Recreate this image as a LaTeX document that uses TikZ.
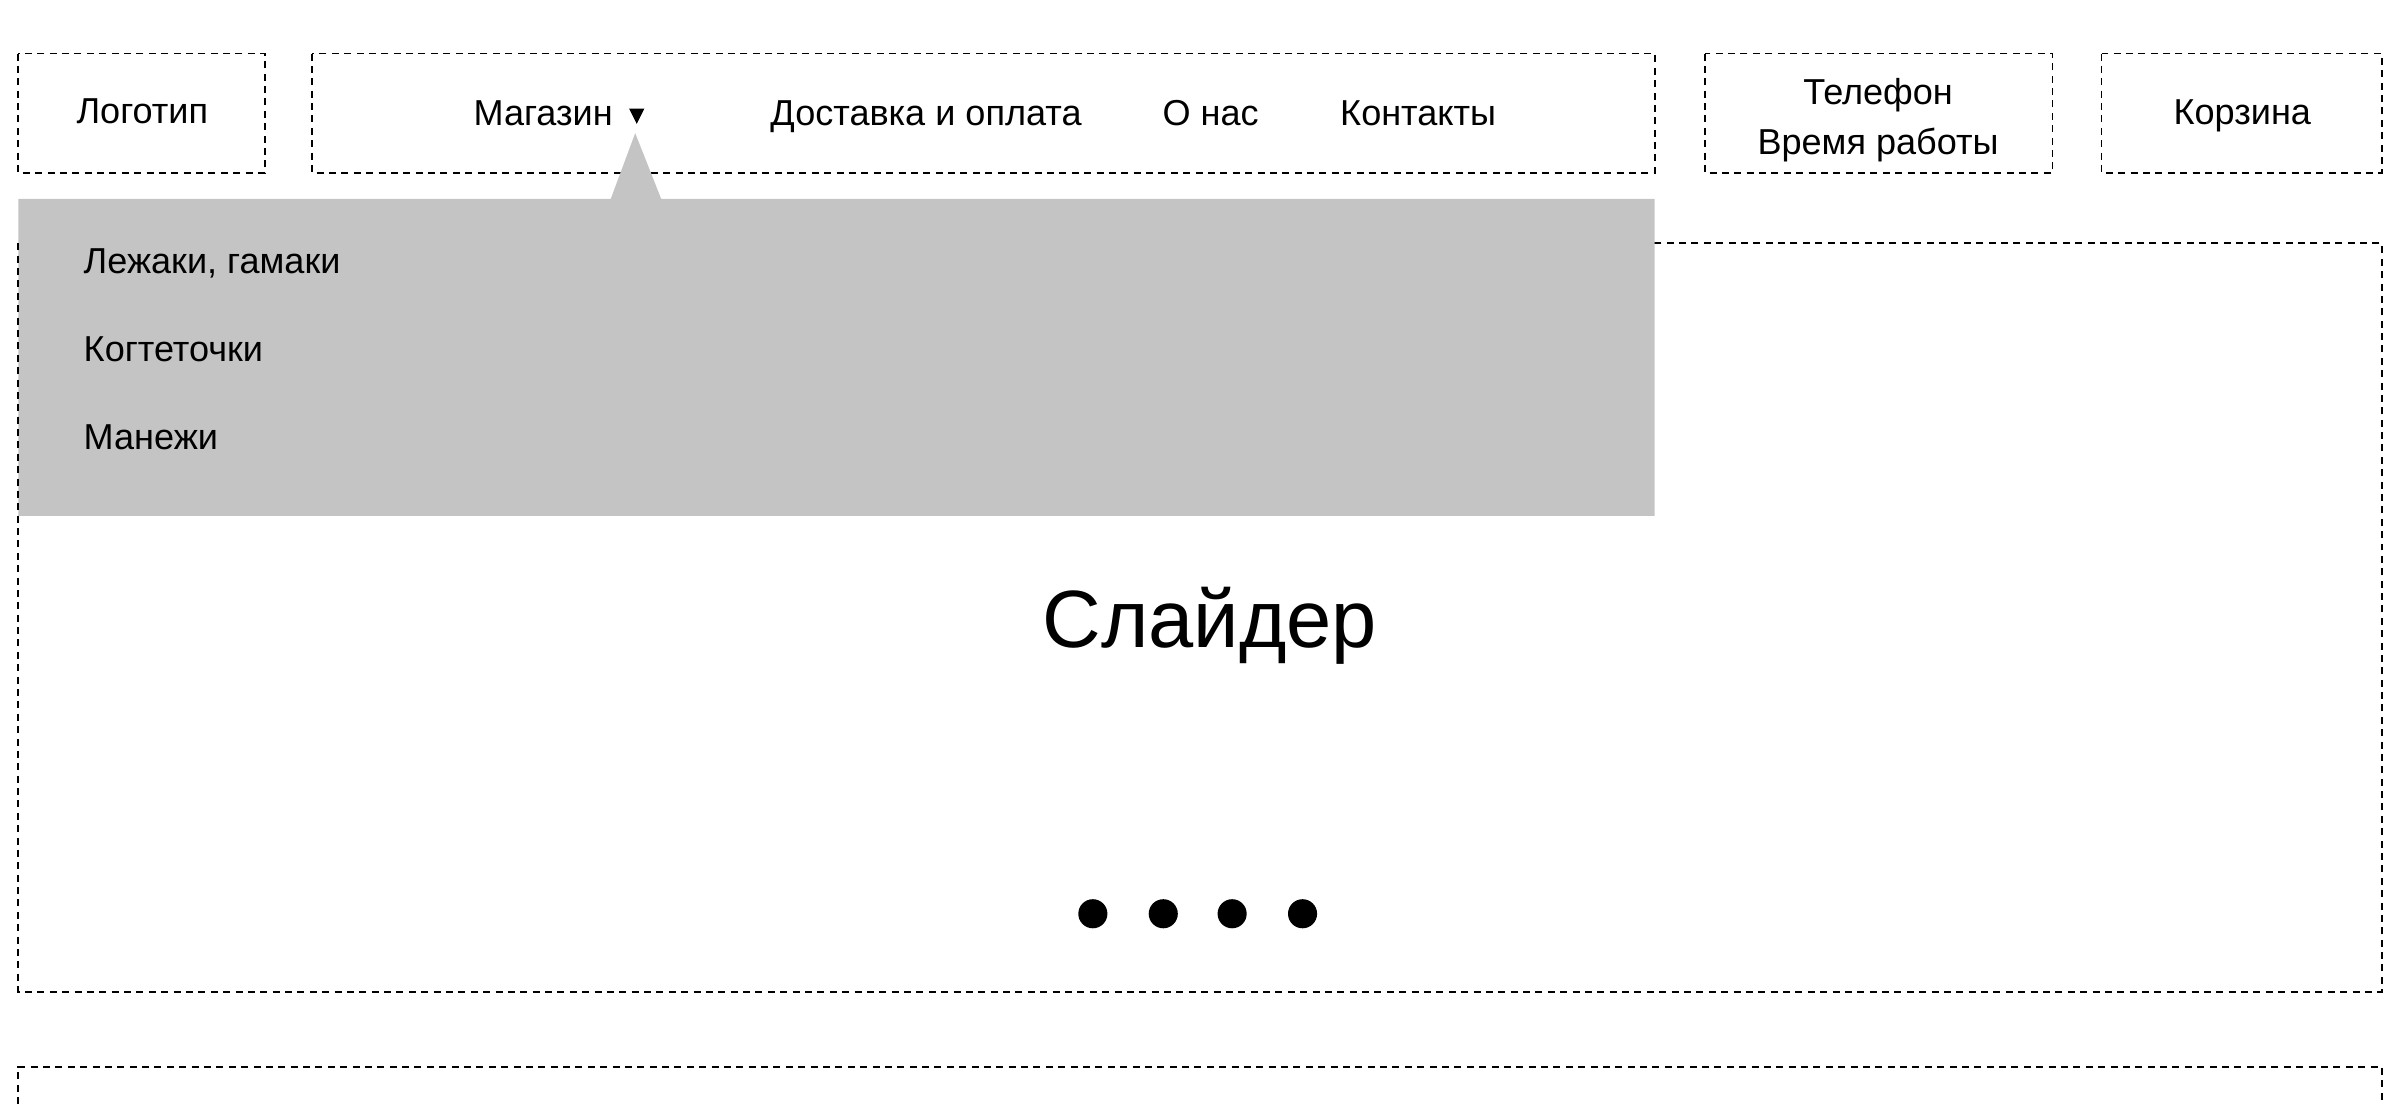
\documentclass[tikz,border=0pt]{standalone}
\usepackage{fontspec}
\setmainfont{Liberation Sans}
\usetikzlibrary{positioning}
\definecolor{dropgray}{HTML}{C4C4C4}

\begin{document}
\begin{tikzpicture}[x=0.01cm, y=-0.01cm]

\tikzset{box/.style = {draw, line width=0.35pt, dash pattern=on 1.3pt off 1pt}}
\tikzset{label/.style = {inner sep=0pt, font=\fontsize{6.7}{8}\selectfont}}
\tikzset{item/.style = {label, anchor=base west}}
\tikzset{dot/.style = {shape=circle, fill=black, inner sep=0pt, minimum size=0.19cm}}
\useasboundingbox (0,0) rectangle (1568,721.3);

% boxes
\draw[box] (12,35) rectangle (173,113);
\draw[box] (204,35) rectangle (1081,113);
\draw[box] (1114,35) rectangle (1341,113);
\draw[box] (1373,35) rectangle (1556,113);
\draw[box] (12,159) rectangle (1556,648);
\draw[box] (12,721.3) -- (12,697) -- (1556,697) -- (1556,721.3);

% dropdown
\fill[dropgray] (12,130) -- (399,130) -- (415,87) -- (432,130) -- (1081,130)
  -- (1081,337) -- (12,337) -- cycle;
\draw[box] (12,159) -- (12,337);

% header texts
\node[label, anchor=base] (logo) at (93,81) {Логотип};
\node[label, anchor=base east] (shop) at (401,82) {Магазин};
\fill (411,71) -- (421,71) -- (416,81) -- cycle;
\node[label, anchor=base] (delivery) at (605,82) {Доставка и оплата};
\node[label, anchor=base] (about) at (791,82) {О нас};
\node[label, anchor=base] (contacts) at (926.5,82) {Контакты};
\node[label, anchor=base] (phone) at (1227,68) {Телефон};
\node[label, anchor=base] (hours) at (1227,101) {Время работы};
\node[label, anchor=base] (cart) at (1465,81.5) {Корзина};

% dropdown items
\node[item] (beds) at (54,179) {Лежаки, гамаки};
\node[item] (scratch) at (54,236) {Когтеточки};
\node[item] (pens) at (54,294) {Манежи};

% slider
\node[inner sep=0pt, anchor=base, font=\fontsize{15.1}{18}\selectfont] (slider) at (790.5,423) {Слайдер};
\node[dot] (d1) at (714,597) {};
\node[dot] (d2) at (760,597) {};
\node[dot] (d3) at (805,597) {};
\node[dot] (d4) at (851,597) {};

\end{tikzpicture}
\end{document}
